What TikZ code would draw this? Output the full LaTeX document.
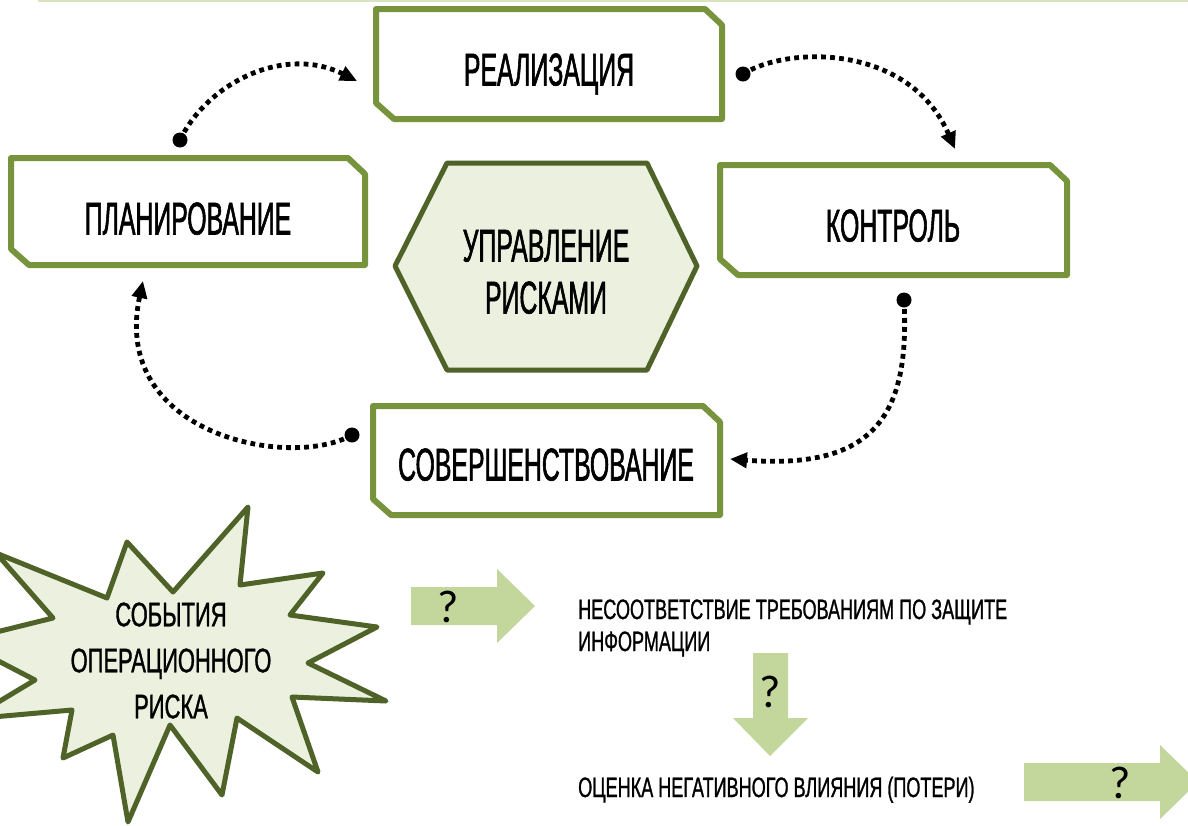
\documentclass[tikz,border=0pt]{standalone}
\usepackage{fontspec}
\setmainfont{Liberation Sans}
\newfontfamily\condA[FakeStretch=0.54,FakeBold=1.2]{Liberation Sans}
\newfontfamily\condB[FakeStretch=0.645,FakeBold=1]{Liberation Sans}
\newfontfamily\qfont{Carlito}
\usetikzlibrary{arrows.meta}
\definecolor{boxgreen}{RGB}{119,147,60}
\definecolor{darkolive}{RGB}{79,98,40}
\definecolor{palegreen}{RGB}{235,241,222}
\definecolor{arrowgreen}{RGB}{195,214,155}
\definecolor{toplinegreen}{RGB}{215,228,189}
\newcommand\snipbox[4]{%
  \draw[boxline] (#1,#2) -- ({#3-17},#2) -- (#3,{#2+16}) -- (#3,#4) -- ({#1+18},#4) -- (#1,{#4-16}) -- cycle;}
\begin{document}
\begin{tikzpicture}[x=1pt,y=-1pt,
  boxline/.style={draw=boxgreen, line width=6pt, fill=white, line join=round},
  boxtext/.style={font=\condA\fontsize{46}{50}\selectfont, inner sep=0pt, text height=33pt, text depth=0pt},
  hexline/.style={draw=darkolive, line width=5pt, fill=palegreen, line join=round},
  startext/.style={font=\condB\fontsize{34}{38}\selectfont, inner sep=0pt, text height=24.5pt, text depth=0pt},
  conn/.style={line width=4.8pt, dash pattern=on 4.8pt off 4.2pt, -{Triangle[length=17pt,width=15pt]}},
  bigarrow/.style={fill=arrowgreen, draw=none},
  qmark/.style={font=\qfont\fontsize{46}{50}\selectfont, inner sep=0pt},
  smalltext/.style={font=\condB\fontsize{28}{32}\selectfont, inner sep=0pt, text height=20pt, text depth=0pt, anchor=west}
]
\clip (0,0) rectangle (1188,825);
\fill[white] (0,0) rectangle (1188,825);
% top line
\draw[toplinegreen, line width=2.5pt] (38,0.5) -- (1188,0.5);

% boxes
\snipbox{376}{9}{722}{119}
\node[boxtext] (real) at (549,69) {РЕАЛИЗАЦИЯ};
\snipbox{11}{158}{365}{265}
\node[boxtext] (plan) at (188,218) {ПЛАНИРОВАНИЕ};
\snipbox{720}{165}{1067}{275}
\node[boxtext] (kontr) at (893,225) {КОНТРОЛЬ};
\snipbox{373}{406}{720}{515}
\node[boxtext] (sov) at (546,464) {СОВЕРШЕНСТВОВАНИЕ};

% hexagon
\draw[hexline] (447,163) -- (647,163) -- (697,266) -- (647,370) -- (447,370) -- (395,266) -- cycle;
\node[boxtext] (hex1) at (546,245) {УПРАВЛЕНИЕ};
\node[boxtext] (hex2) at (546,297) {РИСКАМИ};

% connectors
\coordinate (d1) at (180,140); \coordinate (t1) at (357,81);
\coordinate (d2) at (743,74);  \coordinate (t2) at (955,149);
\coordinate (d3) at (904,300); \coordinate (t3) at (730,459);
\coordinate (d4) at (352,435); \coordinate (t4) at (143,281);
\foreach \d in {d1,d2,d3,d4} \fill (\d) circle (7.5);
\draw[conn] (d1) .. controls (208,82) and (285,45) .. (t1);
\draw[conn] (d2) .. controls (790,45) and (910,45) .. (t2);
\draw[conn] (d3) .. controls (910,415) and (875,470) .. (t3);
\draw[conn] (d4) .. controls (290,470) and (110,435) .. (t4);

% star
\draw[hexline] (248,507) -- (240,585) -- (323,573) -- (290,615) -- (377,627) -- (308,663)
  -- (386,701) -- (292,697) -- (318,772) -- (237,718) -- (222,795) -- (170,725)
  -- (128,822) -- (113,735) -- (63,758) -- (72,710) -- (-30,719) -- (35,680)
  -- (-40,641) -- (53,618) -- (-4,553) -- (107,598) -- (127,542) -- (173,592) -- cycle;
\node[startext] (ev1) at (171,614) {СОБЫТИЯ};
\node[startext] (ev2) at (171,660) {ОПЕРАЦИОННОГО};
\node[startext] (ev3) at (171,706) {РИСКА};

% block arrows
\fill[bigarrow] (411,587) -- (497,587) -- (497,569) -- (535,606) -- (497,643) -- (497,625) -- (411,625) -- cycle;
\node[qmark] (q1) at (448,607) {?};
\fill[bigarrow] (753,653) -- (788,653) -- (788,718) -- (808,718) -- (770,756) -- (733,718) -- (753,718) -- cycle;
\node[qmark] (q2) at (770,692) {?};
\fill[bigarrow] (1024,763) -- (1160,763) -- (1160,745) -- (1198,782) -- (1160,819) -- (1160,801) -- (1024,801) -- cycle;
\node[qmark] (q3) at (1120,783) {?};

% texts
\node[smalltext] (t_a) at (578,609) {НЕСООТВЕТСТВИЕ ТРЕБОВАНИЯМ ПО ЗАЩИТЕ};
\node[smalltext] (t_b) at (578,641) {ИНФОРМАЦИИ};
\node[smalltext] (t_c) at (578,787) {ОЦЕНКА НЕГАТИВНОГО ВЛИЯНИЯ (ПОТЕРИ)};
\end{tikzpicture}
\end{document}
